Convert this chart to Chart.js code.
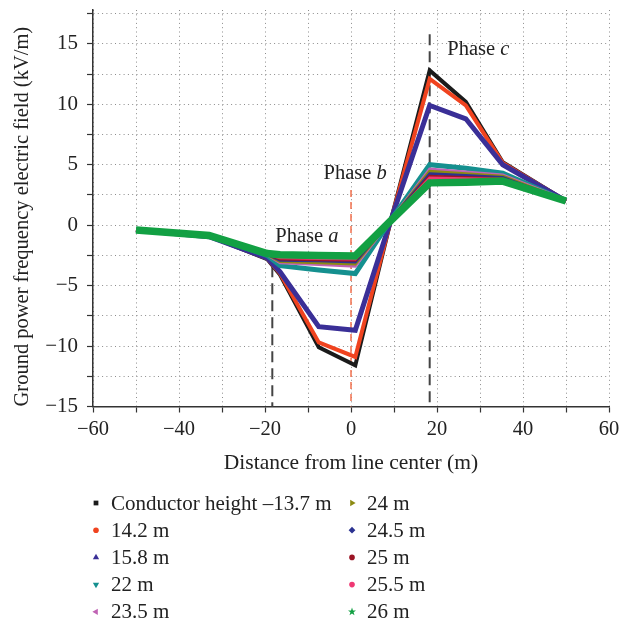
<!doctype html>
<html lang="en">
<head>
<meta charset="utf-8" />
<title>Ground power frequency electric field</title>
<script src="https://cdn.jsdelivr.net/npm/chart.js@4.4.1/dist/chart.umd.min.js"></script>
<style>
  html, body { margin: 0; padding: 0; background: #fff; }
  #wrap { width: 630px; height: 622px; }
</style>
</head>
<body>
<div id="wrap"><canvas id="fieldChart"></canvas></div>
<script>
// distance from line center (m)
const distances = [-50, -33, -19.5, -16.5, -7.5, 1, 9.2, 18.3, 26.7, 35.3, 50];

// legend labels (conductor heights)
const heights = ['Conductor height \u201313.7 m', '14.2 m', '15.8 m', '22 m', '23.5 m',
                 '24 m', '24.5 m', '25 m', '25.5 m', '26 m'];

// ground field (kV/m) per conductor height
const field137 = [-0.4, -0.9, -2.8, -4.1, -10.1, -11.6, 0.3, 12.8, 10.2, 5.2, 2.0];
const field142 = [-0.4, -0.9, -2.75, -4.0, -9.7, -10.9, 0.3, 12.1, 9.9, 5.15, 2.0];
const field158 = [-0.4, -0.95, -2.7, -3.85, -8.4, -8.7, 0.35, 9.9, 8.8, 5.0, 2.0];
const field220 = [-0.4, -0.85, -2.5, -3.35, -3.7, -4.0, 0.4, 5.0, 4.7, 4.3, 2.0];
const field235 = [-0.4, -0.85, -2.45, -3.1, -3.25, -3.4, 0.4, 4.65, 4.4, 4.15, 2.1];
const field240 = [-0.4, -0.85, -2.45, -3.0, -3.1, -3.2, 0.4, 4.45, 4.25, 4.05, 2.05];
const field245 = [-0.4, -0.85, -2.4, -2.9, -2.95, -3.05, 0.4, 4.25, 4.1, 3.95, 2.0];
const field250 = [-0.4, -0.85, -2.4, -2.8, -2.85, -2.9, 0.4, 4.05, 3.95, 3.85, 2.0];
const field255 = [-0.4, -0.85, -2.4, -2.7, -2.75, -2.8, 0.4, 3.9, 3.85, 3.8, 2.0];
const field260 = [-0.4, -0.85, -2.35, -2.45, -2.5, -2.55, 0.35, 3.5, 3.55, 3.65, 2.0];

// phase markers: conductor positions and where their dashed line starts
const phaseNames = ['a', 'b', 'c'];
const phaseX = [-18.3, 0, 18.3];
const phaseLineTop = [-3.4, 2.9, 15.8];
const phaseLabelX = [-17.6, -6.4, 22.4];
const phaseLabelY = [-1.4, 3.8, 14.05];

const series = [field137, field142, field158, field220, field235,
                field240, field245, field250, field255, field260];
const colors = ['#1b1b1b', '#f0431f', '#3a2f97', '#15908f', '#c063b4',
                '#8c8a12', '#2b3291', '#9b1424', '#ef3873', '#12a043'];
const widths = [4, 4, 5, 5, 3, 3, 3, 3, 3, 7.5];
const markers = ['rect', 'circle', 'triUp', 'triDown', 'triLeft',
                 'triRight', 'diamond', 'circle', 'circle', 'star'];

const FONT = '"Liberation Serif", "DejaVu Serif", serif';
const fmt = v => v < 0 ? '\u2212' + Math.abs(v) : String(v);

const datasets = series.map((vals, i) => ({
    label: heights[i],
    data: distances.map((d, k) => ({ x: d, y: vals[k] })),
    borderColor: colors[i],
    backgroundColor: colors[i],
    borderWidth: widths[i],
    pointRadius: 0,
    tension: 0,
    order: series.length - i   // last series drawn on top
}));

function drawMarker(ctx, type, x, y, r, color) {
    ctx.save();
    ctx.fillStyle = color;
    ctx.beginPath();
    if (type === 'rect') {
        ctx.rect(x - r * 0.85, y - r * 0.85, r * 1.7, r * 1.7);
    } else if (type === 'circle') {
        ctx.arc(x, y, r, 0, Math.PI * 2);
    } else if (type === 'diamond') {
        ctx.moveTo(x, y - r * 1.2); ctx.lineTo(x + r * 1.2, y);
        ctx.lineTo(x, y + r * 1.2); ctx.lineTo(x - r * 1.2, y);
    } else if (type === 'star') {
        for (let k = 0; k < 10; k++) {
            const rr = k % 2 === 0 ? r * 1.5 : r * 0.6;
            const a = -Math.PI / 2 + k * Math.PI / 5;
            ctx.lineTo(x + rr * Math.cos(a), y + rr * Math.sin(a));
        }
    } else {
        const rot = { triUp: 0, triRight: 90, triDown: 180, triLeft: 270 }[type] * Math.PI / 180;
        for (let k = 0; k < 3; k++) {
            const a = rot - Math.PI / 2 + k * 2 * Math.PI / 3;
            ctx.lineTo(x + r * 1.3 * Math.cos(a), y + r * 1.3 * Math.sin(a));
        }
    }
    ctx.closePath();
    ctx.fill();
    ctx.restore();
}

const phasePlugin = {
    id: 'phases',
    beforeDatasetsDraw(chart) {
        const { ctx, scales: { x, y } } = chart;
        ctx.save();
        phaseX.forEach((px, i) => {
            const xp = x.getPixelForValue(px);
            ctx.beginPath();
            if (i === 1) {
                ctx.strokeStyle = '#f2714f';
                ctx.lineWidth = 1.5;
                ctx.setLineDash([7, 5]);
            } else {
                ctx.strokeStyle = '#444';
                ctx.lineWidth = 2;
                ctx.setLineDash([11, 6]);
            }
            ctx.moveTo(xp, y.getPixelForValue(phaseLineTop[i]));
            ctx.lineTo(xp, y.getPixelForValue(-15));
            ctx.stroke();
        });
        ctx.restore();
    },
    afterDatasetsDraw(chart) {
        const { ctx, scales: { x, y } } = chart;
        ctx.save();
        ctx.fillStyle = '#222';
        ctx.textBaseline = 'alphabetic';
        ctx.textAlign = 'left';
        phaseNames.forEach((n, i) => {
            const xp = x.getPixelForValue(phaseLabelX[i]);
            const yp = y.getPixelForValue(phaseLabelY[i]);
            ctx.font = '20.5px ' + FONT;
            const w = ctx.measureText('Phase ').width;
            ctx.fillText('Phase ', xp, yp);
            ctx.font = 'italic 20.5px ' + FONT;
            ctx.fillText(n, xp + w, yp);
        });
        ctx.restore();
    }
};

const legendPlugin = {
    id: 'colLegend',
    afterDraw(chart) {
        const { ctx, chartArea } = chart;
        ctx.save();
        ctx.font = '21px ' + FONT;
        ctx.fillStyle = '#222';
        ctx.textBaseline = 'middle';
        ctx.textAlign = 'left';
        heights.forEach((h, i) => {
            const col = Math.floor(i / 5), row = i % 5;
            const mx = chartArea.left + 3 + col * 256;
            const my = chartArea.bottom + 96.5 + row * 27.2;
            drawMarker(ctx, markers[i], mx, my, 2.8, colors[i]);
            ctx.fillText(h, mx + 15, my + 1);
        });
        ctx.restore();
    }
};

new Chart(document.getElementById('fieldChart'), {
    type: 'line',
    data: { datasets },
    options: {
        responsive: true,
        maintainAspectRatio: false,
        animation: false,
        layout: { padding: { top: 10, right: 21, bottom: 146, left: 0 } },
        plugins: {
            legend: { display: false },
            tooltip: { enabled: false }
        },
        scales: {
            x: {
                type: 'linear',
                min: -60,
                max: 60,
                afterFit: s => { s.height = 69.5; s.paddingLeft = 0; s.paddingRight = 0; },
                ticks: {
                    stepSize: 10,
                    autoSkip: false,
                    maxRotation: 0,
                    padding: 5,
                    color: '#222',
                    font: { family: FONT, size: 20.5 },
                    callback: v => v % 20 === 0 ? fmt(v) : ''
                },
                grid: { color: '#8c8c8c', tickColor: '#333', tickLength: 6, tickWidth: 1.2 },
                border: { color: '#333', width: 1.5, dash: [1, 3.3] },
                title: {
                    display: true,
                    text: 'Distance from line center (m)',
                    color: '#222',
                    font: { family: FONT, size: 21.5 },
                    padding: { top: 0, bottom: 0 }
                }
            },
            y: {
                min: -15,
                max: 17.8,
                afterFit: s => { s.width = 93; s.paddingTop = 0; s.paddingBottom = 0; },
                ticks: {
                    stepSize: 2.5,
                    includeBounds: false,
                    autoSkip: false,
                    padding: 9,
                    color: '#222',
                    font: { family: FONT, size: 21 },
                    callback: v => v % 5 === 0 ? fmt(v) : ''
                },
                grid: { color: '#8c8c8c', tickColor: '#333', tickLength: 6, tickWidth: 1.2 },
                border: { color: '#333', width: 1.5, dash: [1, 3.3] },
                title: {
                    display: true,
                    align: 'start',
                    text: 'Ground power frequency electric field (kV/m)',
                    color: '#222',
                    font: { family: FONT, size: 20.5 },
                    padding: { top: 10, bottom: 0 }
                }
            }
        }
    },
    plugins: [phasePlugin, legendPlugin]
});
</script>
</body>
</html>
